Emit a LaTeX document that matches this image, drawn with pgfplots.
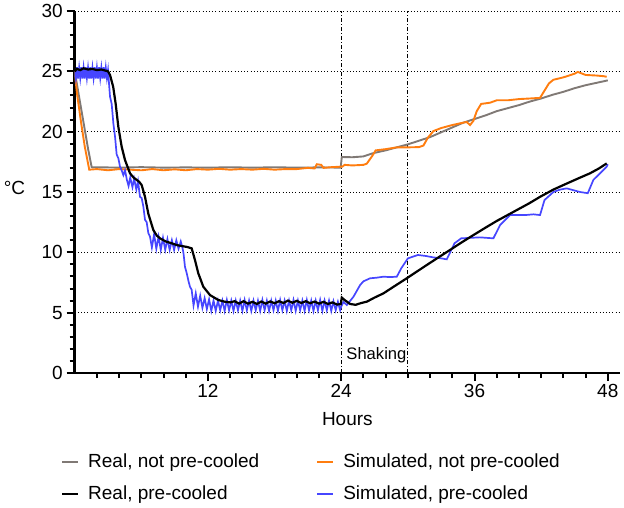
\documentclass[border=0pt]{standalone}
\usepackage{fontspec}
\setmainfont{Liberation Sans}
\usepackage{pgfplots}
\pgfplotsset{compat=1.18}
\definecolor{cgray}{RGB}{128,121,117}
\definecolor{corange}{RGB}{255,125,15}
\definecolor{cblue}{RGB}{70,70,255}
\begin{document}
\begin{tikzpicture}
\path (-74.7bp,-135bp) rectangle (549.3bp,373bp);
\begin{axis}[
  at={(0,0)}, anchor=south west, scale only axis,
  width=545.3bp, height=362bp,
  xmin=0, xmax=49.1, ymin=0, ymax=30,
  axis x line*=bottom, axis y line*=left,
  x axis line style={-, black, line width=2.4bp}, y axis line style={-, black, line width=2.4bp},
  tick label style={font=\fontsize{19bp}{23bp}\selectfont},
  label style={font=\fontsize{19bp}{23bp}\selectfont},
  /pgf/number format/assume math mode=true,
  xtick={12,24,36,48}, minor xtick={2,4,...,46},
  ytick={0,5,...,30}, minor ytick={0,1,...,30},
  xtick pos=bottom, ytick pos=left,
  tick align=outside,
  major tick length=8bp, minor tick length=5bp,
  tick style={black, line width=2bp},
  ymajorgrids, major grid style={black, line width=0.9bp, dash pattern=on 1bp off 2.2bp},
  xticklabel style={anchor=center, yshift=-10bp},
  yticklabel style={anchor=east, inner xsep=0pt, xshift=-3.7bp},
  xlabel={Hours},
  xlabel style={at={(axis description cs:0.5,-0.127)}, anchor=center},
  ylabel={°C},
  ylabel style={rotate=-90, at={(axis description cs:-0.1104,0.51)}, anchor=center},
  legend columns=2, legend cell align=left,
  legend image code/.code={\draw[#1, line width=2bp] (0bp,0bp) -- (16bp,0bp);},
  legend style={draw=none, fill=none, inner sep=0pt, row sep=13.7bp,
    at={(axis description cs:-0.0251,-0.2218)}, anchor=north west,
    font=\fontsize{19bp}{23bp}\selectfont,
    nodes={inner sep=0pt, text height=14bp, text depth=4bp},
    /tikz/every odd column/.append style={column sep=9bp},
    /tikz/every even column/.append style={column sep=57bp}},
]
\addlegendimage{cgray}\addlegendentry{Real, not pre-cooled}
\addlegendimage{corange}\addlegendentry{Simulated, not pre-cooled}
\addlegendimage{black}\addlegendentry{Real, pre-cooled}
\addlegendimage{cblue}\addlegendentry{Simulated, pre-cooled}

% shaking markers
\addplot[black, line width=1bp, dash pattern=on 4bp off 2bp on 1bp off 2bp, forget plot] coordinates {(24,0)(24,30)};
\addplot[black, line width=1bp, dash pattern=on 4bp off 2bp on 1bp off 2bp, forget plot] coordinates {(30,0)(30,30)};

% Real, not pre-cooled (gray)
\addplot[cgray, line width=1.9bp, forget plot] coordinates {
(0,25.0)(0.3,23.4)(0.6,21.8)(0.9,20.2)(1.2,18.6)(1.53,17.05)(2,17.05)(4,17.02)(6,17.06)(8,17.02)(10,17.04)(12,17.02)(14,17.05)(16,17.02)(18,17.05)(20,17.02)(22,17.04)(23.95,17.02)
(24.05,17.9)(25,17.88)(26,17.95)(26.8,18.2)(27.5,18.35)(28,18.45)(29,18.7)(30,18.95)(31,19.25)(32,19.55)(33,19.95)(34,20.35)(35,20.75)(36,21.05)(37,21.35)(38,21.7)(39,21.95)(40,22.2)(41,22.5)(42,22.75)(43,23.05)(44,23.3)(45,23.6)(46,23.85)(47,24.05)(48,24.25)
};
% Simulated, not pre-cooled (orange)
\addplot[corange, line width=1.9bp, forget plot] coordinates {
(0,25.0)(0.2,23.2)(0.4,21.9)(0.6,20.6)(0.9,18.8)(1.31,16.85)(2,16.9)(3,16.8)(4,16.9)(5,16.85)(6,16.8)(7,16.9)(8,16.8)(9,16.88)(10,16.8)(11,16.9)(12,16.85)(13,16.92)(14,16.85)(15,16.9)(16,16.85)(17,16.92)(18,16.85)(19,16.9)(20,16.9)(21,17.0)(21.6,16.95)(21.8,17.3)(22.2,17.25)(22.4,17.0)(23,17.05)(23.95,17.1)
(24.1,17.1)(24.3,17.25)(25,17.2)(26,17.25)(26.3,17.35)(26.8,18.0)(27.1,18.45)(28,18.55)(29,18.7)(30,18.7)(31,18.72)(31.4,18.85)(31.8,19.5)(32.3,20.05)(33,20.3)(34,20.55)(35,20.75)(35.3,20.8)(35.6,20.55)(35.9,20.9)(36.2,21.7)(36.6,22.3)(37.4,22.4)(38,22.6)(39,22.6)(40,22.7)(41,22.75)(41.9,22.8)(42.3,23.4)(42.7,24.0)(43.1,24.3)(44,24.5)(45,24.8)(45.3,24.95)(46,24.7)(47,24.65)(47.6,24.6)(47.9,24.55)
};
% Simulated, pre-cooled (blue)
\addplot[cblue, line width=1.7bp, forget plot] coordinates {
(0,25.0)(0.1,24.4)(0.2,25.35)(0.3,24.4)(0.4,25.3)(0.5,24.45)(0.6,25.35)(0.7,24.4)(0.8,25.3)(0.9,24.4)(1.0,25.35)(1.1,24.45)(1.2,25.3)(1.3,24.4)(1.4,25.35)(1.5,24.4)(1.6,25.3)(1.7,24.45)(1.8,25.35)(1.9,24.4)(2.0,25.3)(2.1,24.4)(2.2,25.35)(2.3,24.45)(2.4,25.3)(2.5,24.4)(2.6,25.35)(2.7,24.4)(2.8,25.3)(2.9,24.45)(3.0,25.1)
(3.09,24.0)(3.18,22.9)(3.33,22.3)(3.48,20.7)(3.63,19.6)(3.78,18.1)(3.93,17.8)(4.08,17.1)(4.23,16.8)(4.38,16.4)(4.53,16.8)(4.7,16.0)(4.85,15.5)(5.0,16.2)(5.2,15.4)(5.35,16.1)(5.55,15.2)(5.7,15.9)(5.88,14.6)(6.03,14.5)(6.18,13.8)(6.33,12.7)(6.48,12.5)(6.63,11.6)(6.78,11.3)
(6.95,10.4)(7.15,11.5)(7.35,10.3)(7.55,11.3)(7.75,10.2)(7.95,11.2)(8.15,10.2)(8.35,11.1)(8.55,10.2)(8.75,11.0)(8.95,10.2)(9.15,11.0)(9.35,10.3)(9.55,10.9)(9.7,10.4)
(9.8,9.9)(9.93,8.8)(10.08,8.3)(10.25,7.6)(10.38,7.15)(10.53,6.9)
(10.7,5.6)(10.9,6.6)(11.1,5.5)(11.3,6.4)(11.5,5.4)(11.7,6.2)(11.9,5.3)(12.1,6.1)
(12.3,5.15)(12.5,6.0)(12.7,5.15)(12.9,6.0)(13.1,5.2)(13.3,6.0)(13.5,5.15)(13.7,6.05)(13.9,5.2)(14.1,6.0)(14.3,5.15)(14.5,6.0)(14.7,5.2)(14.9,6.0)(15.1,5.15)(15.3,6.05)(15.5,5.2)(15.7,6.0)(15.9,5.15)(16.1,6.0)(16.3,5.2)(16.5,6.0)(16.7,5.15)(16.9,6.05)(17.1,5.2)(17.3,6.0)(17.5,5.15)(17.7,6.0)(17.9,5.2)(18.1,6.0)(18.3,5.15)(18.5,6.05)(18.7,5.2)(18.9,6.0)(19.1,5.15)(19.3,6.0)(19.5,5.2)(19.7,6.05)(19.9,5.15)(20.1,6.0)(20.3,5.2)(20.5,6.0)(20.7,5.15)(20.9,6.05)(21.1,5.2)(21.3,6.0)(21.5,5.15)(21.7,6.0)(21.9,5.2)(22.1,6.05)(22.3,5.15)(22.5,6.0)(22.7,5.2)(22.9,6.0)(23.1,5.15)(23.3,5.95)(23.5,5.2)(23.7,5.9)(23.9,5.2)
(24.0,5.5)(24.2,5.9)(24.5,5.63)(25.1,6.32)(25.7,7.29)(26.0,7.6)(26.6,7.85)(27.2,7.9)(27.8,7.98)(28.4,7.95)(29.0,7.98)(29.4,8.67)(30.0,9.5)(30.9,9.78)(31.6,9.7)(32.3,9.58)(33.0,9.5)(33.5,9.42)(34.2,10.75)(34.8,11.16)(35.6,11.2)(36.5,11.24)(37.1,11.2)(37.7,11.16)(38.3,12.26)(39.2,13.09)(40.0,13.1)(40.7,13.1)(41.3,13.15)(41.9,13.09)(42.3,14.33)(43.1,15.0)(43.7,15.2)(44.3,15.3)(44.9,15.15)(45.5,15.0)(46.2,14.9)(46.7,16.0)(47.3,16.55)(47.9,17.1)(48,17.3)
};
% Real, pre-cooled (black)
\addplot[black, line width=2.2bp, forget plot] coordinates {
(0,25.0)(0.2,25.2)(0.5,25.1)(0.8,25.25)(1.2,25.15)(1.6,25.2)(2.0,25.1)(2.4,25.15)(2.8,25.05)(3.0,25.0)(3.18,24.7)(3.47,23.7)(3.69,22.3)(3.93,20.4)(4.23,18.75)(4.53,17.65)(4.98,16.55)(5.3,16.2)(5.58,16.0)(5.8,15.85)(6.03,15.58)(6.33,14.6)(6.63,13.2)(7.08,11.85)(7.38,11.4)(7.68,11.16)(8.2,10.9)(8.73,10.75)(9.2,10.6)(9.63,10.52)(10.1,10.45)(10.53,10.33)(10.83,9.36)(11.13,8.26)(11.58,7.15)(12.18,6.46)(12.93,6.05)(13.5,5.91)(14,5.85)
(14.4,5.95)(14.8,5.75)(15.2,5.95)(15.6,5.75)(16,5.9)(16.4,5.72)(16.8,5.92)(17.2,5.75)(17.6,5.93)(18,5.78)(18.4,5.95)(18.8,5.8)(19.2,6.0)(19.6,5.82)(20,5.98)(20.4,5.8)(20.8,5.95)(21.2,5.78)(21.6,5.92)(22,5.75)(22.4,5.9)(22.8,5.72)(23.2,5.85)(23.6,5.68)(23.95,5.7)
(24.05,6.25)(24.3,6.05)(24.8,5.72)(25.3,5.65)(25.8,5.8)(26.3,5.91)(27.0,6.25)(27.8,6.6)(28.8,7.2)(29.9,7.85)(30.8,8.4)(31.7,8.95)(32.7,9.55)(33.8,10.2)(34.8,10.8)(35.9,11.43)(37,12.05)(38,12.6)(38.9,13.05)(39.8,13.5)(40.9,14.05)(41.9,14.6)(43.1,15.2)(44.3,15.7)(45.4,16.15)(46.4,16.55)(47.2,16.95)(47.9,17.37)
};
\node[anchor=base west, inner sep=0pt, font=\fontsize{16.6bp}{20bp}\selectfont] at (axis cs:24.45,1.08) {Shaking};
\end{axis}
\end{tikzpicture}
\end{document}
